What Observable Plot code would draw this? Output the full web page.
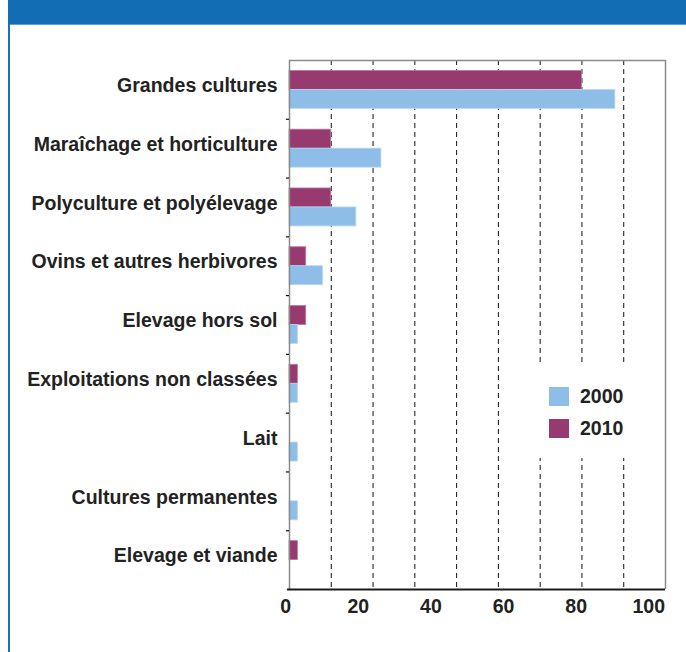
<!DOCTYPE html>
<html>
<head>
<meta charset="utf-8">
<script src="https://cdn.jsdelivr.net/npm/d3@7"></script>
<script src="https://cdn.jsdelivr.net/npm/@observablehq/plot@0.6"></script>
<style>
  html, body { margin: 0; padding: 0; background: #fff; }
  #wrap { position: relative; width: 686px; height: 652px; overflow: hidden; font-family: "Liberation Sans", Arial, sans-serif; }
  #band { position: absolute; left: 8px; top: 0; width: 678px; height: 24px; background: #136db5; border-bottom: 1px solid #5d9fd8; }
  #border { position: absolute; left: 8px; top: 24px; width: 2px; height: 628px; background: #1a70bd; }
  #legend { position: absolute; left: 522px; top: 362px; width: 128px; height: 96px; background: #fff; }
  .item { position: absolute; left: 27px; height: 20px; }
  .sw { position: absolute; left: 0; top: 0; width: 20px; height: 19px; }
  .lab { position: absolute; left: 31px; top: -3px; font-size: 19.5px; font-weight: bold; color: #222; line-height: 24px; }
  #chart { position: absolute; left: 0; top: 0; }
</style>
</head>
<body>
<div id="wrap">
  <div id="chart"></div>
  <div id="band"></div>
  <div id="border"></div>
  <div id="legend"></div>
</div>
<script>
const categories = [
  "Grandes cultures",
  "Maraîchage et horticulture",
  "Polyculture et polyélevage",
  "Ovins et autres herbivores",
  "Elevage hors sol",
  "Exploitations non classées",
  "Lait",
  "Cultures permanentes",
  "Elevage et viande"
];
const years = ["2000", "2010"];
const values2000 = [78, 22, 16, 8, 2, 2, 2, 2, 0];
const values2010 = [70, 10, 10, 4, 4, 2, 0, 0, 2];
const gridValues = [10, 20, 30, 40, 50, 60, 70, 80];
const xTickLabels = [0, 20, 40, 60, 80, 100];

const colors = { "2000": "#8ebee7", "2010": "#963a6f" };
const edges = { "2000": "#b9d7f1", "2010": "#b97a9c" };

const rows2000 = categories.map((c, i) => ({ cat: c, v: values2000[i] })).filter(d => d.v > 0);
const rows2010 = categories.map((c, i) => ({ cat: c, v: values2010[i] })).filter(d => d.v > 0);

const W = 686, H = 652;
const mTop = 60, mBottom = 63, mLeft = 289, mRight = 21;
const step = (H - mTop - mBottom) / categories.length;
const padInner = 0.354;
const half = step * (1 - padInner) / 2;

const chart = Plot.plot({
  width: W,
  height: H,
  marginTop: mTop,
  marginBottom: mBottom,
  marginLeft: mLeft,
  marginRight: mRight,
  style: { fontFamily: "'Liberation Sans', Arial, sans-serif", fontSize: "19.5px", fontWeight: "bold", color: "#222", background: "transparent" },
  x: { domain: [0, 90], axis: null },
  y: { domain: categories, paddingInner: padInner, paddingOuter: padInner / 2, round: false, axis: null, label: null },
  marks: [
    Plot.ruleX(gridValues, { stroke: "#111", strokeWidth: 1, strokeDasharray: "5,4" }),
    Plot.barX(rows2010, { x: "v", y: "cat", fill: colors["2010"], stroke: edges["2010"], strokeWidth: 0.8, insetBottom: half }),
    Plot.barX(rows2000, { x: "v", y: "cat", fill: colors["2000"], stroke: edges["2000"], strokeWidth: 0.8, insetTop: half }),
    Plot.ruleY([categories[0]], { dy: -step / 2, stroke: "#8a8a8a", strokeWidth: 1.5 }),
    Plot.ruleX([0], { stroke: "#8a8a8a", strokeWidth: 1.5 }),
    Plot.ruleX([90], { stroke: "#8a8a8a", strokeWidth: 1.5 }),
    Plot.ruleY(categories.slice(1), { dy: -step / 2, x1: -0.75, x2: 0, stroke: "#111", strokeWidth: 1.2 }),
    Plot.ruleY([categories[categories.length - 1]], { dy: step / 2, x1: -0.5, x2: 90, stroke: "#1a1a1a", strokeWidth: 2 }),
    Plot.axisY({ tickSize: 0, tickPadding: 12, dy: -4, fill: "#222", label: null }),
    Plot.text(xTickLabels, { x: d => d * 0.869 - 0.91, text: d => String(d), frameAnchor: "bottom", dy: 23, fill: "#222" })
  ]
});
document.getElementById("chart").appendChild(chart);

const legend = document.getElementById("legend");
years.forEach((y, i) => {
  const item = document.createElement("div");
  item.className = "item";
  item.style.top = (25 + i * 32) + "px";
  const sw = document.createElement("div");
  sw.className = "sw";
  sw.style.background = colors[y];
  const lab = document.createElement("div");
  lab.className = "lab";
  lab.textContent = y;
  item.appendChild(sw);
  item.appendChild(lab);
  legend.appendChild(item);
});
</script>
</body>
</html>
